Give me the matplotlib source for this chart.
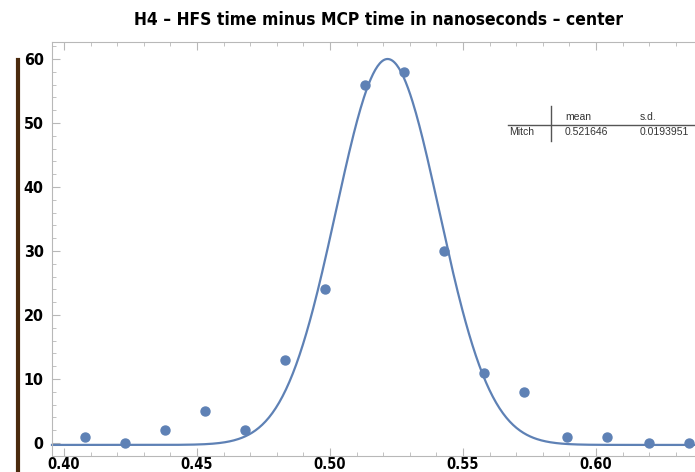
import matplotlib
matplotlib.use("Agg")
import matplotlib.pyplot as plt
import numpy as np
from matplotlib.ticker import MultipleLocator

# bins (ns) and counts
t_bins = [0.408, 0.423, 0.438, 0.453, 0.468, 0.483, 0.498, 0.513,
          0.528, 0.543, 0.558, 0.573, 0.589, 0.604, 0.620, 0.635]
counts = [1, 0, 2, 5, 2, 13, 24, 56, 58, 30, 11, 8, 1, 1, 0, 0]

# fitted gaussian
fit_mean = 0.521646
fit_sd = 0.0193951
fit_amp = 60.3
fit_offset = -0.3

col = "#5E81B5"
W, H = 695, 472
fig = plt.figure(figsize=(W / 100, H / 100), dpi=100)

left, right, top, bottom = 52, 712, 42, 456
ax = fig.add_axes([left / W, (H - bottom) / H, (right - left) / W, (bottom - top) / H])

x0 = 0.40 - 12 / 2660
ax.set_xlim(x0, x0 + (right - left) / 2660)
ax.set_ylim(-(bottom - 443) / 6.4, (443 - top) / 6.4)

xs = np.linspace(x0, 0.65, 600)
ys = fit_amp * np.exp(-(xs - fit_mean) ** 2 / (2 * fit_sd ** 2)) + fit_offset
ax.plot(xs, ys, color=col, lw=1.6, clip_on=False)
ax.scatter(t_bins, counts, s=42, color=col, zorder=3, clip_on=False)

ax.xaxis.set_major_locator(MultipleLocator(0.05))
ax.xaxis.set_minor_locator(MultipleLocator(0.01))
ax.yaxis.set_major_locator(MultipleLocator(10))
ax.yaxis.set_minor_locator(MultipleLocator(2))
ax.set_xticks(np.arange(0.40, 0.601, 0.05))
ax.set_xticklabels(["0.40", "0.45", "0.50", "0.55", "0.60"])
ax.set_yticks(range(0, 61, 10))

for s in ["left", "bottom", "top"]:
    ax.spines[s].set_color("#b8b8b8")
ax.spines["right"].set_visible(False)
ax.tick_params(which="both", direction="in", color="#b8b8b8", top=True, right=False)
ax.tick_params(which="major", length=6, width=0.8)
ax.tick_params(which="minor", length=3, width=0.6)
ax.tick_params(axis="x", pad=0.5)
ax.tick_params(axis="y", pad=6)
for lab in ax.get_xticklabels():
    lab.set_fontsize(10.5)
for lab in ax.get_yticklabels():
    lab.set_fontsize(11.5)
for lab in ax.get_xticklabels() + ax.get_yticklabels():
    lab.set_fontweight("bold")
    lab.set_family("DejaVu Sans")
    lab.set_fontstretch("condensed")

fig.text(379 / W, 1 - 20 / H, "H4 \u2013 HFS time minus MCP time in nanoseconds \u2013 center",
         ha="center", va="center", fontsize=12.5, fontweight="bold",
         family="DejaVu Sans", fontstretch="condensed")

# small stats table
def fx(p):
    return p / W

def fy(p):
    return 1 - p / H

fig.add_artist(plt.Line2D([fx(551), fx(551)], [fy(106), fy(141)], color="#555555", lw=1))
fig.add_artist(plt.Line2D([fx(508), fx(695)], [fy(125), fy(125)], color="#555555", lw=1))
tkw = dict(fontsize=7.5, va="center", ha="left", color="#333333", family="Liberation Sans")
fig.text(fx(565), fy(117), "mean", **tkw)
fig.text(fx(640), fy(117), "s.d.", **tkw)
fig.text(fx(509), fy(132), "Mitch", **tkw)
fig.text(fx(565), fy(132), "0.521646", **tkw)
fig.text(fx(640), fy(132), "0.0193951", **tkw)

# brown bar at the left edge
fig.add_artist(plt.Line2D([fx(18), fx(18)], [fy(60), fy(470)], color="#4a2a0e", lw=3))

fig.savefig("out.png", dpi=100)
